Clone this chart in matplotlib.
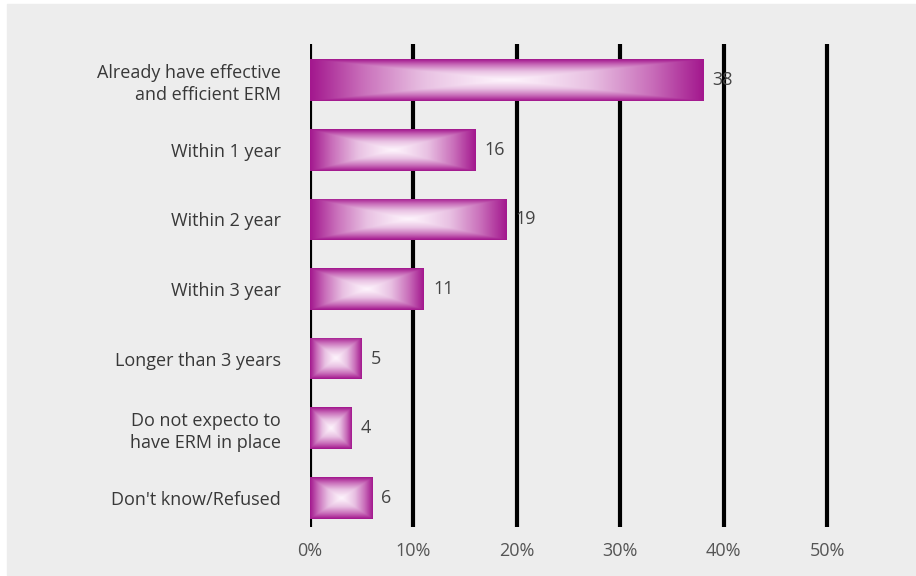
"""Horizontal bar chart: expected timing for effective ERM."""

import numpy as np
import matplotlib
matplotlib.use("Agg")
import matplotlib.pyplot as plt
from matplotlib.colors import LinearSegmentedColormap
from matplotlib.patches import Rectangle

categories = [
    "Already have effective\nand efficient ERM",
    "Within 1 year",
    "Within 2 year",
    "Within 3 year",
    "Longer than 3 years",
    "Do not expecto to\nhave ERM in place",
    "Don't know/Refused",
]
values = [38, 16, 19, 11, 5, 4, 6]
xticks = [0, 10, 20, 30, 40, 50]
xtick_labels = ["0%", "10%", "20%", "30%", "40%", "50%"]

plt.rcParams["font.family"] = ["Open Sans", "DejaVu Sans"]

fig = plt.figure(figsize=(9.16, 5.76), dpi=100, facecolor="white")
# grey panel behind everything
fig.patches.append(Rectangle((7 / 916, 1 / 576), 1, 571 / 576,
                             transform=fig.transFigure, color="#ededed", zorder=-10))

ax = fig.add_axes([310 / 916, 1 - 527 / 576, 540 / 916, 483 / 576])
ax.set_zorder(1)
ax.set_facecolor("none")

# pillow gradient: white centre fading to magenta edges
cmap = LinearSegmentedColormap.from_list(
    "pillow", [(0.0, "#fdf2fb"), (0.35, "#e8c0e2"), (0.7, "#c86cb9"), (1.0, "#a3188e")])
U, V = np.meshgrid(np.linspace(-1, 1, 200), np.linspace(-1, 1, 60))
grad = np.maximum(np.abs(U), np.abs(V)) ** 1.2

ypos = np.arange(len(categories))
bars = ax.barh(ypos, values, height=0.6, color="none", edgecolor="none", zorder=3)
for rect, val, y in zip(bars, values, ypos):
    x0, y0 = rect.get_x(), rect.get_y()
    w, h = rect.get_width(), rect.get_height()
    im = ax.imshow(grad, cmap=cmap, extent=(x0, x0 + w, y0 + h, y0),
                   aspect="auto", interpolation="bilinear", zorder=3)
    im.set_clip_path(rect)
    ax.text(val + 0.9, y, str(val), va="center", ha="left",
            fontsize=13, color="#444444", zorder=4)

for xt in xticks:
    ax.axvline(xt, color="black", lw=3, zorder=1)

ax.set_xlim(0, 52.2)
ax.set_ylim(6.42, -0.52)
ax.set_yticks(ypos)
ax.set_yticklabels(categories, fontsize=13, color="#383838", linespacing=1.3)
ax.set_xticks(xticks)
ax.set_xticklabels(xtick_labels, fontsize=13, color="#555555")
ax.tick_params(axis="y", length=0, pad=21)
ax.tick_params(axis="x", length=0, pad=11)
for s in ax.spines.values():
    s.set_visible(False)

fig.savefig("out.png", dpi=100, facecolor="white")
